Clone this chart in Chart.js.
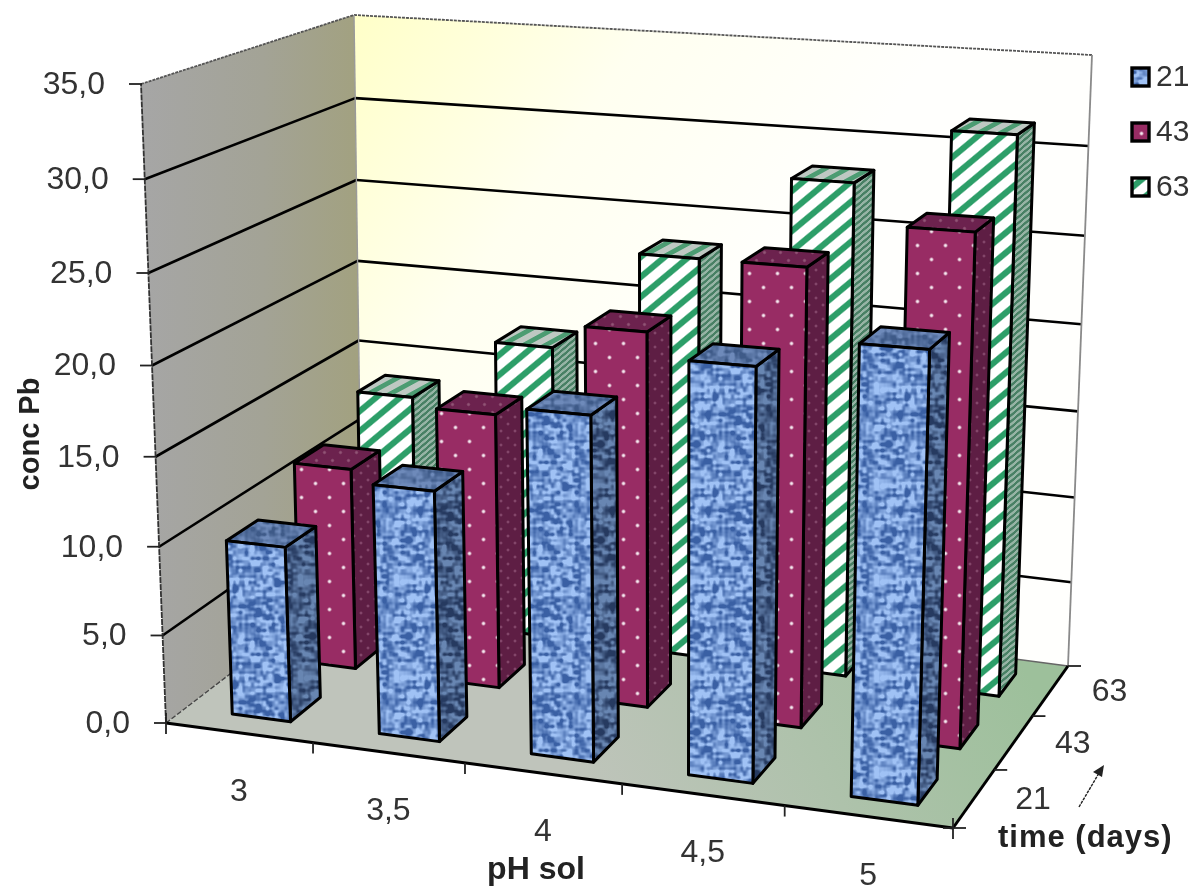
<!DOCTYPE html>
<html><head><meta charset="utf-8">
<style>html,body{margin:0;padding:0;background:#fff}canvas{display:block;filter:blur(.5px)}</style>
<script src="https://cdn.jsdelivr.net/npm/chart.js@4/dist/chart.umd.js"></script>
</head><body><canvas id="c" width="1193" height="893"></canvas>
<script>
const categories = ['3','3,5','4','4,5','5'];
const seriesNames = ['21','43','63'];
const series21 = [9.9, 13.9, 18.8, 22.1, 23.7];
const series43 = [11.8, 15.8, 21.2, 25.4, 27.9];
const series63 = [13.7, 17.5, 23.4, 28.3, 31.5];
const yTitle = 'conc Pb', xTitle = 'pH sol', zTitle = 'time (days)';

// box of the 3D scene on the page
const floorQuad = [[166,723],[953,828],[1068,666],[362,573]];
const topQuad   = [[141,84],[974,132],[1092,55],[354,15]];
const perspK = 0.05, perspU = 0.08, barDepth = 0.15, barShift = 0.0045;

function homography(q){
  const [p0,p1,p2,p3]=q;
  const dx1=p1[0]-p2[0],dx2=p3[0]-p2[0],sx=p0[0]-p1[0]+p2[0]-p3[0];
  const dy1=p1[1]-p2[1],dy2=p3[1]-p2[1],sy=p0[1]-p1[1]+p2[1]-p3[1];
  const d=dx1*dy2-dx2*dy1;
  const g=(sx*dy2-dx2*sy)/d,h=(dx1*sy-sx*dy1)/d;
  const a=p1[0]-p0[0]+g*p1[0],b=p3[0]-p0[0]+h*p3[0],c=p0[0];
  const e=p1[1]-p0[1]+g*p1[1],f=p3[1]-p0[1]+h*p3[1],k=p0[1];
  return (u,v)=>{const w=g*u+h*v+1;return [(a*u+b*v+c)/w,(e*u+f*v+k)/w];};
}
const Hb=homography(floorQuad),Ht=homography(topQuad);
function P(u0,v,t){
  const s=t/(1+perspK-perspK*t);
  const u=u0/(1+perspU-perspU*u0);
  const a=Hb(u,v),b=Ht(u,v);
  return [a[0]+(b[0]-a[0])*s,a[1]+(b[1]-a[1])*s];
}

function tile(w,h,fn){
  const c=document.createElement('canvas');c.width=w;c.height=h;
  const x=c.getContext('2d'),im=x.createImageData(w,h);
  for(let j=0;j<h;j++)for(let i=0;i<w;i++){
    const col=fn(i,j),o=(j*w+i)*4;
    im.data[o]=col[0];im.data[o+1]=col[1];im.data[o+2]=col[2];im.data[o+3]=255;
  }
  x.putImageData(im,0,0);return c;
}
const mix=(a,b,t)=>{t=Math.max(0,Math.min(1,t));return [a[0]+(b[0]-a[0])*t,a[1]+(b[1]-a[1])*t,a[2]+(b[2]-a[2])*t];};
const hash=(i,j)=>{const s=Math.sin(i*127.1+j*311.7)*43758.5453;return s-Math.floor(s);};
function noise(x,y,cx,cy,nx,ny){
  const fx=x/cx,fy=y/cy,i=Math.floor(fx),j=Math.floor(fy);
  const sm=t=>t*t*(3-2*t),a=sm(fx-i),b=sm(fy-j);
  const n=(p,q)=>hash((p+nx)%nx,(q+ny)%ny);
  return (n(i,j)*(1-a)+n(i+1,j)*a)*(1-b)+(n(i,j+1)*(1-a)+n(i+1,j+1)*a)*b;
}
function weave(dark,light){
  return tile(96,96,(x,y)=>{
    const v=.55*noise(x,y,6,3,16,32)+.45*noise(x,y,3,6,32,16);
    return mix(dark,light,(v-.5)*2.4+.52);
  });
}
function dots(base,dot,w,h,r){
  return tile(w,h,(x,y)=>{
    const pts=[[w*.25,h*.25],[w*.75,h*.75]];let d=9;
    for(const p of pts){for(const ox of[-w,0,w])for(const oy of[-h,0,h])d=Math.min(d,Math.hypot(x-p[0]-ox,y-p[1]-oy));}
    return mix(dot,base,(d-r*.4)/r);
  });
}
function stripes(fg,bg,w,h,duty){
  return tile(w,h,(x,y)=>{
    const v=((x/w+y/h)%1);
    const d=Math.abs(v-.5)*2;
    return mix(fg,bg,(d-duty)*6+.5);
  });
}
const textures={
  blue:[weave([58,96,164],[160,194,245]),weave([38,58,96],[104,134,178]),weave([62,90,136],[110,138,186])],
  mag:[dots([152,44,100],[245,235,240],28,28,1.8),dots([94,30,68],[135,75,110],14,14,1.4),dots([108,34,78],[145,85,118],16,16,1.6)],
  green:[stripes([44,158,104],[255,255,255],24,20,.4),stripes([72,128,100],[150,180,165],7,6,.5),stripes([76,156,114],[190,200,194],22,12,.45)]
};
const texKey=['blue','mag','green'];

function poly(ctx,pts){ctx.beginPath();pts.forEach((p,i)=>i?ctx.lineTo(p[0],p[1]):ctx.moveTo(p[0],p[1]));ctx.closePath();}
function line(ctx,a,b,col,w,dash){ctx.save();ctx.strokeStyle=col;ctx.lineWidth=w;ctx.setLineDash(dash||[]);ctx.beginPath();ctx.moveTo(a[0],a[1]);ctx.lineTo(b[0],b[1]);ctx.stroke();ctx.restore();}

const scene3d={
  id:'scene3d',
  beforeDatasetsDraw(chart){
    const ctx=chart.ctx,yS=chart.scales.y,n=categories.length,rows=seriesNames.length;
    const frac=v=>(yS.bottom-yS.getPixelForValue(v))/(yS.bottom-yS.top);
    // left wall
    let g=ctx.createLinearGradient(141,0,362,0);g.addColorStop(0,'#a6a6a6');g.addColorStop(.55,'#a3a396');g.addColorStop(1,'#a2a17f');
    poly(ctx,[P(0,0,0),P(0,0,1),P(0,1,1),P(0,1,0)]);ctx.fillStyle=g;ctx.fill();
    // back wall
    g=ctx.createLinearGradient(354,15,760,300);g.addColorStop(0,'#ffffc8');g.addColorStop(.5,'#fffff0');g.addColorStop(1,'#fffffd');
    poly(ctx,[P(0,1,0),P(0,1,1),P(1,1,1),P(1,1,0)]);ctx.fillStyle=g;ctx.fill();
    // floor
    g=ctx.createLinearGradient(600,830,1000,620);g.addColorStop(0,'#bfc4bb');g.addColorStop(1,'#9dc09b');
    poly(ctx,[P(0,0,0),P(1,0,0),P(1,1,0),P(0,1,0)]);ctx.fillStyle=g;ctx.fill();
    // gridlines
    yS.ticks.forEach(t=>{
      const f=frac(t.value);
      if(f<=0)return;
      const top=f>=1;
      const col=top?'#555':'#000',w=top?1.8:2.6,dash=top?[3,1]:null;
      line(ctx,P(0,0,f),P(0,1,f),col,w,dash);
      line(ctx,P(0,1,f),P(1,1,f),col,w,dash);
    });
    // wall edges
    line(ctx,P(0,0,0),P(0,0,1),'#333',1.8,[6,1]);
    line(ctx,P(0,1,0),P(0,1,1),'#9a9a9a',1.4);
    line(ctx,P(1,1,0),P(1,1,1),'#8a8a8a',1.8);
    line(ctx,P(0,0,0),P(0,1,0),'#444',1.4,[5,2]);
    line(ctx,P(0,1,0),P(1,1,0),'#666',1.4);
    // floor front and side edges with ticks
    line(ctx,P(0,0,0),P(1,0,0),'#000',3);
    line(ctx,P(1,0,0),P(1,1,0),'#000',3);
    for(let i=0;i<=n;i++){const a=P(i/n,0,0);line(ctx,[a[0],a[1]-(i==0||i==n?10:0)],[a[0],a[1]+11],'#222',1.8);}
    for(let i=0;i<=rows;i++){const a=P(1,i/rows,0);line(ctx,[a[0]-(i==0?10:0),a[1]],[a[0]+13,a[1]],'#222',1.8);}
    yS.ticks.forEach(t=>{const a=P(0,0,frac(t.value));line(ctx,[a[0]-12,a[1]],[a[0]+1,a[1]],'#222',1.8);});
  },
  beforeDatasetDraw(chart,args){
    const ctx=chart.ctx,area=chart.chartArea,meta=args.meta,i=args.index;
    const tex=textures[texKey[i]].map(c=>ctx.createPattern(c,'repeat'));
    const vc=(i+.5)/seriesNames.length;
    const v0=vc-barDepth/2,v1=vc+barDepth/2;
    meta.data.forEach(el=>{
      const u=(el.x-area.left)/area.width+barShift,hw=el.width/2/area.width;
      const t=(el.base-el.y)/(area.bottom-area.top);
      const u0=u-hw,u1=u+hw;
      ctx.save();ctx.lineJoin='round';ctx.strokeStyle='#000';ctx.lineWidth=3;
      poly(ctx,[P(u1,v0,0),P(u1,v1,0),P(u1,v1,t),P(u1,v0,t)]);ctx.fillStyle=tex[1];ctx.fill();ctx.stroke();
      poly(ctx,[P(u0,v0,t),P(u1,v0,t),P(u1,v1,t),P(u0,v1,t)]);ctx.fillStyle=tex[2];ctx.fill();ctx.stroke();
      poly(ctx,[P(u0,v0,0),P(u1,v0,0),P(u1,v0,t),P(u0,v0,t)]);ctx.fillStyle=tex[0];ctx.fill();ctx.stroke();
      ctx.restore();
    });
    return false;
  },
  afterDraw(chart){
    const ctx=chart.ctx,yS=chart.scales.y,n=categories.length,rows=seriesNames.length;
    const frac=v=>(yS.bottom-yS.getPixelForValue(v))/(yS.bottom-yS.top);
    ctx.save();ctx.fillStyle='#333';ctx.textBaseline='middle';
    ctx.font='32px "Liberation Sans"';ctx.textAlign='right';
    yS.ticks.forEach(t=>{
      const a=P(0,0,frac(t.value));
      ctx.fillText(t.value.toFixed(1).replace('.',','),a[0]-36,a[1]+1);
    });
    ctx.textAlign='center';
    categories.forEach((c,i)=>{const a=P((i+.5)/n,0,0);ctx.fillText(c,a[0],a[1]+59);});
    seriesNames.forEach((s,i)=>{const a=P(1,(i+.5)/rows,0);ctx.fillText(s,a[0]+59,a[1]+2);});
    ctx.fillStyle='#222';ctx.font='bold 32px "Liberation Sans"';
    ctx.fillText(xTitle,536,870);
    ctx.font='bold 31px "Liberation Sans"';ctx.textAlign='left';ctx.letterSpacing='1px';
    ctx.fillText(zTitle,998,838);
    ctx.letterSpacing='0px';
    ctx.font='bold 29px "Liberation Sans"';
    ctx.save();ctx.translate(31,434);ctx.rotate(-Math.PI/2);ctx.textAlign='center';ctx.fillText(yTitle,0,0);ctx.restore();
    // arrow beside the time axis
    line(ctx,[1079,807],[1102,768],'#222',1.4,[3,1]);
    ctx.beginPath();ctx.moveTo(1104,765);ctx.lineTo(1093,772);ctx.lineTo(1102,777);ctx.closePath();ctx.fillStyle='#222';ctx.fill();
    // legend
    seriesNames.forEach((s,i)=>{
      const y=77+i*55;
      ctx.fillStyle=ctx.createPattern(textures[texKey[i]][0],'repeat');
      ctx.fillRect(1132,y-9,17,18);
      ctx.strokeStyle='#000';ctx.lineWidth=3.4;ctx.strokeRect(1132,y-9,17,18);
      ctx.fillStyle='#333';ctx.font='30px "Liberation Sans"';ctx.textAlign='left';ctx.textBaseline='middle';
      ctx.fillText(s,1156,y+1);
    });
    ctx.restore();
  }
};

new Chart(document.getElementById('c'),{
  type:'bar',
  data:{labels:categories,datasets:[
    {label:seriesNames[0],data:series21,backgroundColor:'#6f97d8'},
    {label:seriesNames[1],data:series43,backgroundColor:'#962a63'},
    {label:seriesNames[2],data:series63,backgroundColor:'#2f9e68'}
  ]},
  options:{
    responsive:false,animation:false,
    grouped:false,barPercentage:.4,categoryPercentage:1,
    layout:{padding:{left:140,right:100,top:85,bottom:168}},
    plugins:{legend:{display:false},tooltip:{enabled:false},title:{display:false}},
    scales:{
      x:{type:'category',display:false},
      y:{type:'linear',display:false,min:0,max:35,ticks:{stepSize:5}}
    }
  },
  plugins:[scene3d]
});
</script></body></html>
